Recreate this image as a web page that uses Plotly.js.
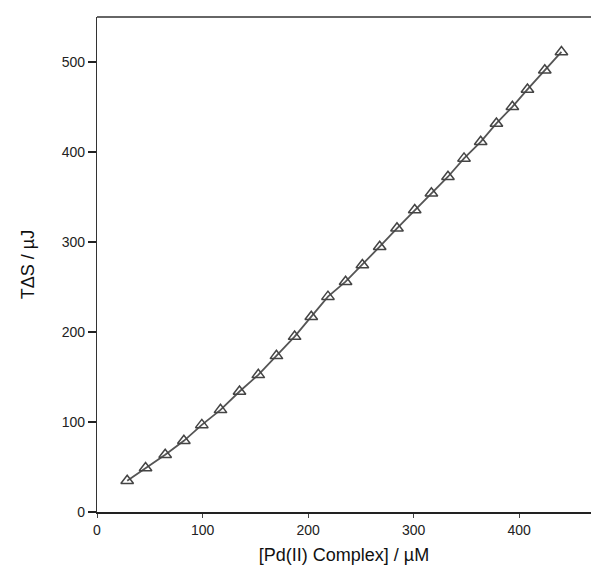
<!DOCTYPE html>
<html>
<head>
<meta charset="utf-8">
<script src="https://cdn.plot.ly/plotly-3.0.1.min.js"></script>
<style>html,body{margin:0;padding:0;background:#fff;}#chart{width:591px;height:577px;}</style>
</head>
<body>
<div id="chart"></div>
<script>
const concentration = [28.6, 46, 64.6, 82.3, 99.3, 117, 135, 152.8, 170, 187.2, 203, 218.8, 235.5, 251.4, 267.8, 284.2, 301, 316.8, 332.5, 347.7, 363.5, 378.4, 393.5, 407.8, 424.2, 440];
const tds = [34.7, 48.8, 63.6, 79.1, 96.8, 113.5, 133.9, 152.4, 173.5, 194.9, 217, 239.3, 255.9, 274.5, 294.8, 315.2, 335.5, 354.1, 372.5, 392.9, 411.3, 431.7, 450.2, 469.5, 490.9, 511.2];
const xTicks = [0, 100, 200, 300, 400];
const yTicks = [0, 100, 200, 300, 400, 500];

const font = 'Liberation Sans, Arial, sans-serif';
const data = [{
  x: concentration, y: tds,
  type: 'scatter', mode: 'lines+markers',
  line: {color: '#555555', width: 1.8},
  marker: {symbol: 'triangle-up-open', size: 11, color: '#444444', line: {width: 1.5, color: '#444444'}},
  showlegend: false
}];
const layout = {
  width: 591, height: 577,
  margin: {l: 97, r: 0, t: 17, b: 65},
  paper_bgcolor: '#fff', plot_bgcolor: '#fff',
  font: {family: font, color: '#111'},
  xaxis: {
    range: [0, 468], tickvals: xTicks, ticktext: xTicks.map(String),
    showgrid: false, zeroline: false,
    showline: true, linecolor: '#222', linewidth: 2, mirror: false,
    ticks: 'outside', ticklen: 4, tickcolor: '#444', tickwidth: 1,
    tickfont: {size: 14, family: font, color: '#222'},
    title: {text: '[Pd(II) Complex] / µM', font: {size: 18, family: font, color: '#111'}, standoff: 12}
  },
  yaxis: {
    range: [0, 550], tickvals: yTicks, ticktext: yTicks.map(String),
    showgrid: false, zeroline: false,
    showline: true, linecolor: '#333', linewidth: 1.2,
    ticks: 'outside', ticklen: 8, tickcolor: '#222', tickwidth: 1.5,
    tickfont: {size: 14, family: font, color: '#222'},
    title: {text: 'TΔS / µJ', font: {size: 18, family: font, color: '#111'}, standoff: 22}
  },
  shapes: [{type: 'line', xref: 'paper', yref: 'paper', x0: 0, x1: 1, y0: 1, y1: 1, line: {color: '#333', width: 1.5}}]
};
Plotly.newPlot('chart', data, layout, {displayModeBar: false, staticPlot: true});
</script>
</body>
</html>
